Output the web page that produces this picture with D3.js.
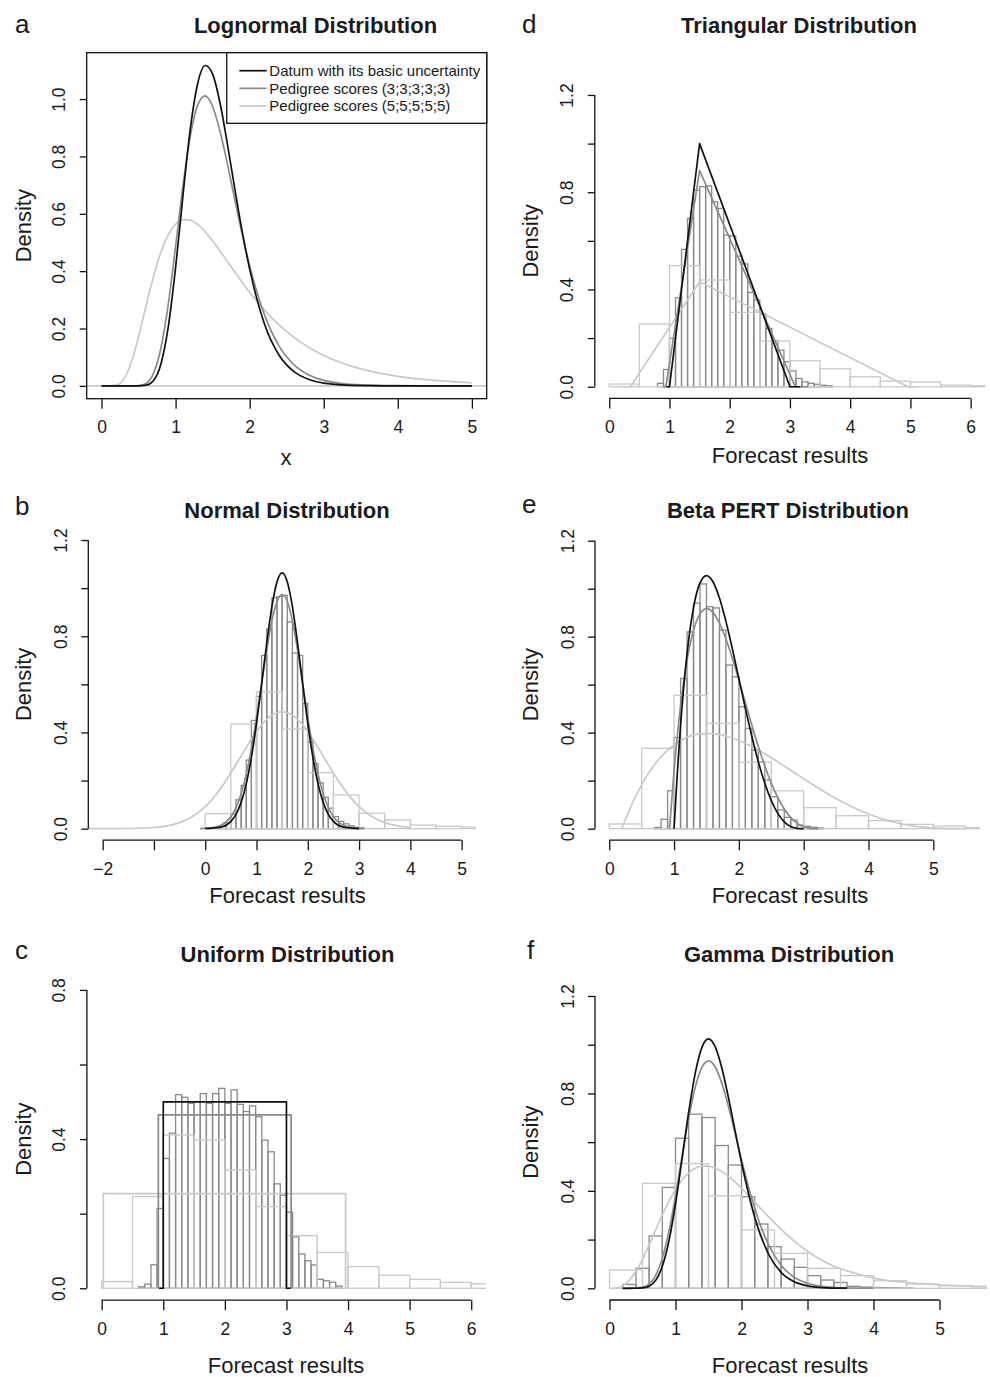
<!DOCTYPE html>
<html>
<head>
<meta charset="utf-8">
<script src="https://cdn.jsdelivr.net/npm/d3@7"></script>
<style>
  body { margin: 0; background: #fff; }
  svg text { font-family: "Liberation Sans", Arial, Helvetica, sans-serif; }
</style>
</head>
<body>
<svg id="chart" width="990" height="1377"></svg>
<script>
// ─── Panel a: lognormal densities ───
const lnX     = [0, 0.1, 0.2, 0.3, 0.4, 0.5, 0.6, 0.7, 0.8, 0.9, 1.0, 1.1, 1.2, 1.3, 1.4, 1.5, 1.6, 1.7, 1.8, 1.9, 2.0, 2.2, 2.4, 2.6, 2.8, 3.0, 3.5, 4.0, 4.5, 5.0];
const lnBasic = [0, 0, 0, 0, 0, 0.0001, 0.0024, 0.0179, 0.0745, 0.2038, 0.4125, 0.6644, 0.8985, 1.056, 1.117, 1.087, 0.9862, 0.8424, 0.6861, 0.5372, 0.4072, 0.2161, 0.1061, 0.0494, 0.0221, 0.0096, 0.0011, 0.0001, 0, 0];
const lnPed3  = [0, 0, 0, 0, 0, 0.0009, 0.0088, 0.0426, 0.1295, 0.2827, 0.4865, 0.6981, 0.873, 0.9807, 1.0115, 0.9742, 0.8879, 0.7732, 0.6488, 0.5278, 0.4187, 0.2476, 0.1379, 0.0736, 0.0381, 0.0193, 0.0034, 0.0006, 0.0001, 0];
const lnPed5  = [0, 0, 0.0025, 0.0235, 0.0808, 0.1717, 0.2777, 0.3798, 0.4647, 0.5263, 0.5639, 0.5798, 0.5779, 0.5623, 0.5372, 0.5056, 0.4704, 0.4336, 0.3967, 0.3607, 0.3264, 0.2643, 0.2118, 0.1687, 0.1339, 0.106, 0.0591, 0.0333, 0.019, 0.011];

// ─── Panel b: normal ───
const normBasic = [[0, 0.0004], [0.3, 0.0064], [0.5, 0.0304], [0.6, 0.0597], [0.7, 0.1093], [0.8, 0.1864], [0.9, 0.2957], [1.0, 0.4373], [1.1, 0.6022], [1.2, 0.7725], [1.3, 0.9228], [1.4, 1.0267], [1.5, 1.0638], [1.6, 1.0267], [1.7, 0.9228], [1.8, 0.7725], [1.9, 0.6022], [2.0, 0.4373], [2.1, 0.2957], [2.2, 0.1864], [2.3, 0.1093], [2.4, 0.0597], [2.5, 0.0304], [2.7, 0.0064], [3.0, 0.0004]];
const normPed3 = [[-0.1, 0.0005], [0.1, 0.0029], [0.3, 0.0134], [0.5, 0.0497], [0.6, 0.0875], [0.7, 0.145], [0.8, 0.2265], [0.9, 0.3334], [1.0, 0.4626], [1.1, 0.6045], [1.2, 0.7444], [1.3, 0.8638], [1.4, 0.9445], [1.5, 0.973], [1.6, 0.9445], [1.7, 0.8638], [1.8, 0.7444], [1.9, 0.6045], [2.0, 0.4626], [2.1, 0.3334], [2.2, 0.2265], [2.3, 0.145], [2.4, 0.0875], [2.5, 0.0497], [2.7, 0.0134], [2.9, 0.0029], [3.1, 0.0005]];
const normPed5 = [[-2.27, 0], [-1.5, 0.0006], [-1.0, 0.0047], [-0.5, 0.025], [-0.3, 0.0439], [-0.1, 0.0727], [0.1, 0.1135], [0.3, 0.167], [0.5, 0.2315], [0.7, 0.3023], [0.9, 0.3721], [1.1, 0.4316], [1.3, 0.4718], [1.5, 0.486], [1.7, 0.4718], [1.9, 0.4316], [2.1, 0.3721], [2.3, 0.3023], [2.5, 0.2315], [2.7, 0.167], [2.9, 0.1135], [3.1, 0.0727], [3.3, 0.0439], [3.5, 0.025], [4.0, 0.0047]];
const normHist3 = [0.003, 0.01, 0.025, 0.06, 0.12, 0.18, 0.285, 0.45, 0.55, 0.72, 0.83, 0.96, 0.965, 0.97, 0.86, 0.73, 0.72, 0.52, 0.36, 0.27, 0.19, 0.13, 0.085, 0.05, 0.03, 0.02, 0.012, 0.006, 0.003]; // 0.1 bins from 0.2
const normHist5 = [0.062, 0.435, 0.569, 0.414, 0.233, 0.14, 0.064, 0.036, 0.015, 0.01, 0.007]; // 0.5 bins from 0

// ─── Panel c: uniform ───
const uniBasic = [[0.93, 0], [1, 0], [1, 0.5], [3, 0.5], [3, 0], [3.07, 0]];
const uniPed3 = [[0.92, 0], [0.92, 0.465], [3.076, 0.465], [3.076, 0]];
const uniPed5 = [[0.027, 0], [0.027, 0.254], [3.96, 0.254], [3.96, 0]];
const uniHist3 = [0.004, 0.011, 0.063, 0.214, 0.348, 0.416, 0.519, 0.512, 0.496, 0.5, 0.522, 0.496, 0.522, 0.536, 0.496, 0.532, 0.493, 0.474, 0.489, 0.46, 0.397, 0.366, 0.28, 0.25, 0.204, 0.138, 0.092, 0.074, 0.0625, 0.024, 0.02, 0.016, 0.006]; // 0.1 bins from 0.6
const uniHist5 = [0.018, 0.246, 0.411, 0.398, 0.317, 0.219, 0.141, 0.096, 0.058, 0.035, 0.024, 0.016, 0.012]; // 0.5 bins from 0

// ─── Panel d: triangular ───
const triBasic = [[0.95, 0], [1.0, 0], [1.5, 1.0], [3.0, 0], [3.17, 0]];
const triPed3 = [[0.9, 0], [0.94, 0], [1.5, 0.889], [3.09, 0], [3.3, 0]];
const triPed5 = [[0.25, 0], [0.35, 0], [1.5, 0.432], [4.96, 0], [5.1, 0]];
const triHist3 = [0.014, 0.071, 0.199, 0.366, 0.565, 0.692, 0.809, 0.823, 0.826, 0.761, 0.733, 0.624, 0.62, 0.537, 0.505, 0.388, 0.357, 0.3, 0.24, 0.19, 0.15, 0.103, 0.065, 0.034, 0.02, 0.014, 0.01, 0.006, 0.004]; // 0.1 bins from 0.8
const triHist5 = [0.011, 0.258, 0.498, 0.439, 0.306, 0.188, 0.107, 0.074, 0.041, 0.023, 0.019, 0.007, 0.004]; // 0.5 bins from 0

// ─── Panel e: beta PERT ───
const betaBasic = [[1.0, 0], [1.05, 0.2317], [1.1, 0.4287], [1.2, 0.729], [1.3, 0.9212], [1.4, 1.024], [1.5, 1.0547], [1.6, 1.029], [1.7, 0.9612], [1.8, 0.864], [1.9, 0.7487], [2.0, 0.625], [2.1, 0.5012], [2.2, 0.384], [2.3, 0.2787], [2.4, 0.189], [2.5, 0.1172], [2.6, 0.064], [2.7, 0.0287], [2.8, 0.009], [2.9, 0.0012], [3.0, 0]];
const betaPed3 = [[0.93, 0], [1.0, 0.2411], [1.1, 0.5105], [1.2, 0.7019], [1.3, 0.8266], [1.4, 0.8951], [1.5, 0.9171], [1.6, 0.9016], [1.7, 0.8568], [1.8, 0.7905], [1.9, 0.7092], [2.0, 0.6189], [2.1, 0.5246], [2.2, 0.4312], [2.3, 0.3424], [2.4, 0.2612], [2.5, 0.1898], [2.6, 0.1297], [2.7, 0.0818], [2.8, 0.0462], [2.9, 0.022], [3.0, 0.0078], [3.1, 0.0015], [3.23, 0]];
const betaPed5 = [[0.19, 0], [0.4, 0.132], [0.6, 0.2285], [0.8, 0.3], [1.0, 0.3496], [1.2, 0.3804], [1.4, 0.3951], [1.6, 0.3963], [1.8, 0.3863], [2.0, 0.3676], [2.2, 0.3422], [2.4, 0.3119], [2.6, 0.2784], [2.8, 0.2434], [3.0, 0.208], [3.2, 0.1735], [3.4, 0.1408], [3.6, 0.1108], [3.8, 0.0841], [4.0, 0.0609], [4.2, 0.0417], [4.4, 0.0266], [4.6, 0.0152], [4.8, 0.0075], [5.0, 0.0029], [5.2, 0.0006], [5.5, 0]];
const betaHist3 = [0.005, 0.039, 0.158, 0.38, 0.626, 0.82, 0.94, 1.02, 0.925, 0.92, 0.828, 0.682, 0.633, 0.508, 0.418, 0.328, 0.279, 0.203, 0.133, 0.078, 0.047, 0.036, 0.015, 0.01, 0.006, 0.003]; // 0.1 bins from 0.7
const betaHist5 = [0.0196, 0.335, 0.556, 0.439, 0.277, 0.158, 0.0876, 0.054, 0.0335, 0.018, 0.011, 0.004]; // 0.5 bins from 0

// ─── Panel f: gamma ───
const gamBasic = [[0.2, 0], [0.4, 0.0002], [0.5, 0.0016], [0.6, 0.0089], [0.7, 0.0331], [0.8, 0.0903], [0.9, 0.1944], [1.0, 0.3471], [1.1, 0.5335], [1.2, 0.7238], [1.3, 0.8846], [1.4, 0.9892], [1.5, 1.024], [1.6, 0.992], [1.7, 0.9061], [1.8, 0.7857], [1.9, 0.6504], [2.0, 0.5163], [2.2, 0.292], [2.4, 0.1457], [2.6, 0.0656], [2.8, 0.0269], [3.0, 0.0103], [3.3, 0.0021], [3.6, 0.0004]];
const gamPed3 = [[0.2, 0], [0.5, 0.0042], [0.6, 0.0179], [0.7, 0.0535], [0.8, 0.1234], [0.9, 0.2337], [1.0, 0.3792], [1.1, 0.5424], [1.2, 0.6994], [1.3, 0.8267], [1.4, 0.9073], [1.5, 0.934], [1.6, 0.9095], [1.7, 0.8434], [1.8, 0.7489], [1.9, 0.6398], [2.0, 0.5279], [2.2, 0.3282], [2.4, 0.1839], [2.6, 0.0945], [2.8, 0.0451], [3.0, 0.0202], [3.3, 0.0055], [3.6, 0.0013], [4.0, 0.0002]];
const gamPed5 = [[0.05, 0], [0.1, 0.0011], [0.2, 0.01], [0.3, 0.0325], [0.4, 0.0699], [0.5, 0.1199], [0.6, 0.1783], [0.7, 0.2401], [0.8, 0.3011], [0.9, 0.3572], [1.0, 0.4057], [1.1, 0.4449], [1.2, 0.4738], [1.3, 0.4926], [1.4, 0.5015], [1.5, 0.5016], [1.6, 0.4939], [1.8, 0.4603], [2.0, 0.4107], [2.2, 0.3537], [2.4, 0.296], [2.6, 0.2417], [2.8, 0.1934], [3.0, 0.1519], [3.25, 0.1099], [3.5, 0.08], [3.75, 0.06], [4.0, 0.042], [4.5, 0.024], [5.0, 0.014], [5.5, 0.009], [5.72, 0.007]];
const gamHist3 = [0.016, 0.082, 0.215, 0.414, 0.616, 0.715, 0.701, 0.586, 0.506, 0.376, 0.264, 0.171, 0.12, 0.086, 0.052, 0.034, 0.024, 0.008, 0.005, 0.003, 0.002, 0.001]; // 0.2 bins from 0.2
const gamHist5 = [0.075, 0.431, 0.512, 0.38, 0.24, 0.1435, 0.082, 0.052, 0.031, 0.0175, 0.0107, 0.0066]; // 0.5 bins from 0

// ─── Ticks ───
const yTicks12 = [0, 0.2, 0.4, 0.6, 0.8, 1.0, 1.2];
const yLabels12 = [0, 0.4, 0.8, 1.2];
const legendLabels = ["Datum with its basic uncertainty", "Pedigree scores (3;3;3;3;3)", "Pedigree scores (5;5;5;5;5)"];

const DARK = "#111111", MID = "#8a8a8a", LIGHT = "#c9c9c9", TEXT = "#1a1a1a";
const seriesColors = [DARK, MID, LIGHT];

const panels = [
  {
    id: "a", title: "Lognormal Distribution", xlab: "x", box: true,
    px: [86.7, 486.7], py: [398.7, 52.7], xdom: [-0.2, 5.2], ydom: [-0.0447, 1.1617],
    xticks: [0, 1, 2, 3, 4, 5], xlabels: [0, 1, 2, 3, 4, 5],
    yticks: [0, 0.2, 0.4, 0.6, 0.8, 1.0], ylabels: [0, 0.2, 0.4, 0.6, 0.8, 1.0],
    title_xy: [315.5, 33.3], letter_xy: [15, 32.7], xlab_xy: [286, 465], ylabX: 30.7,
    hist3: null, hist5: null,
    curves: [d3.zip(lnX, lnPed5), d3.zip(lnX, lnPed3), d3.zip(lnX, lnBasic)], smooth: true,
  },
  {
    id: "b", title: "Normal Distribution", xlab: "Forecast results",
    px: [88.3, 476], py: [840.2, 528.5], xdom: [-2.28, 5.28], ydom: [-0.048, 1.248],
    xticks: [-2, -1, 0, 1, 2, 3, 4, 5], xlabels: [-2, 0, 1, 2, 3, 4, 5],
    yticks: yTicks12, ylabels: yLabels12,
    title_xy: [287, 518.3], letter_xy: [15, 515], xlab_xy: [287.5, 903], ylabX: 30.7,
    hist3: { start: 0.2, step: 0.1, values: normHist3 }, hist5: { start: 0, step: 0.5, values: normHist5 },
    curves: [normPed5, normPed3, normBasic], smooth: true,
  },
  {
    id: "c", title: "Uniform Distribution", xlab: "Forecast results",
    px: [86.9, 486], py: [1300.2, 978], xdom: [-0.24, 6.24], ydom: [-0.032, 0.832],
    xticks: [0, 1, 2, 3, 4, 5, 6], xlabels: [0, 1, 2, 3, 4, 5, 6],
    yticks: [0, 0.2, 0.4, 0.6, 0.8], ylabels: [0, 0.4, 0.8],
    title_xy: [287.5, 961.7], letter_xy: [15, 959.3], xlab_xy: [286, 1373], ylabX: 30.7,
    hist3: { start: 0.6, step: 0.1, values: uniHist3 }, hist5: { start: 0, step: 0.5, values: uniHist5 },
    curves: [uniPed5, uniPed3, uniBasic], smooth: false,
  },
  {
    id: "d", title: "Triangular Distribution", xlab: "Forecast results",
    px: [594.8, 985.1], py: [398.4, 83.3], xdom: [-0.24, 6.24], ydom: [-0.048, 1.248],
    xticks: [0, 1, 2, 3, 4, 5, 6], xlabels: [0, 1, 2, 3, 4, 5, 6],
    yticks: yTicks12, ylabels: yLabels12,
    title_xy: [799, 33.3], letter_xy: [522, 32.7], xlab_xy: [790, 462.7], ylabX: 537.7,
    hist3: { start: 0.8, step: 0.1, values: triHist3 }, hist5: { start: 0, step: 0.5, values: triHist5 },
    curves: [triPed5, triPed3, triBasic], smooth: false,
  },
  {
    id: "e", title: "Beta PERT Distribution", xlab: "Forecast results",
    px: [595, 980], py: [840.2, 529.2], xdom: [-0.22, 5.72], ydom: [-0.048, 1.248],
    xticks: [0, 1, 2, 3, 4, 5], xlabels: [0, 1, 2, 3, 4, 5],
    yticks: yTicks12, ylabels: yLabels12,
    title_xy: [788, 518.3], letter_xy: [522, 513.3], xlab_xy: [790, 903], ylabX: 537.7,
    hist3: { start: 0.7, step: 0.1, values: betaHist3 }, hist5: { start: 0, step: 0.5, values: betaHist5 },
    curves: [betaPed5, betaPed3, betaBasic], smooth: true,
  },
  {
    id: "f", title: "Gamma Distribution", xlab: "Forecast results",
    px: [595, 987], py: [1300, 984.3], xdom: [-0.22, 5.72], ydom: [-0.048, 1.248],
    xticks: [0, 1, 2, 3, 4, 5], xlabels: [0, 1, 2, 3, 4, 5],
    yticks: yTicks12, ylabels: yLabels12,
    title_xy: [789, 961.7], letter_xy: [527, 959.3], xlab_xy: [790, 1373], ylabX: 537.7,
    hist3: { start: 0.2, step: 0.2, values: gamHist3 }, hist5: { start: 0, step: 0.5, values: gamHist5 },
    curves: [gamPed5, gamPed3, gamBasic], smooth: true,
  },
];

const svg = d3.select("#chart");
const defs = svg.append("defs");

function drawHist(g, x, y, h, color) {
  g.append("g")
    .selectAll("rect")
    .data(h.values)
    .enter()
    .append("rect")
    .attr("x", (d, i) => x(h.start + i * h.step))
    .attr("width", (d, i) => x(h.start + (i + 1) * h.step) - x(h.start + i * h.step))
    .attr("y", (d) => y(d))
    .attr("height", (d) => y(0) - y(d))
    .attr("fill", "none")
    .attr("stroke", color)
    .attr("stroke-width", 1.3);
}

panels.forEach((p) => {
  const x = d3.scaleLinear().domain(p.xdom).range(p.px);
  const y = d3.scaleLinear().domain(p.ydom).range(p.py);
  const g = svg.append("g").attr("class", `panel-${p.id}`);

  defs.append("clipPath").attr("id", `clip-${p.id}`)
    .append("rect")
    .attr("x", p.px[0]).attr("y", p.py[1])
    .attr("width", p.px[1] - p.px[0]).attr("height", p.py[0] - p.py[1]);

  const plot = g.append("g").attr("clip-path", `url(#clip-${p.id})`);

  if (p.box) {
    // zero reference line across the whole plot
    plot.append("line")
      .attr("x1", p.px[0]).attr("x2", p.px[1])
      .attr("y1", y(0)).attr("y2", y(0))
      .attr("stroke", LIGHT).attr("stroke-width", 1.6);
  }

  // ─── Histograms ───
  if (p.hist3) drawHist(plot, x, y, p.hist3, MID);
  if (p.hist5) drawHist(plot, x, y, p.hist5, LIGHT);

  // ─── Density curves (light, mid, black) ───
  const line = d3.line()
    .x((d) => x(d[0]))
    .y((d) => y(d[1]))
    .curve(p.smooth ? d3.curveMonotoneX : d3.curveLinear);

  p.curves.forEach((c, i) => {
    plot.append("path")
      .attr("d", line(c))
      .attr("fill", "none")
      .attr("stroke", seriesColors[2 - i])
      .attr("stroke-width", 1.7)
      .attr("stroke-linejoin", "round");
  });

  // ─── Axes ───
  const yAxisG = g.append("g")
    .attr("transform", `translate(${p.px[0]},0)`)
    .call(d3.axisLeft(y).tickValues(p.yticks).tickSize(7)
      .tickFormat((d) => (p.ylabels.includes(d) ? d3.format(".1f")(d) : "")));
  yAxisG.select(".domain").remove();
  yAxisG.attr("font-size", null).attr("font-family", null);
  yAxisG.selectAll("line").attr("stroke", DARK).attr("stroke-width", 1.3);
  yAxisG.selectAll("text")
    .attr("x", 0).attr("dy", 0)
    .attr("text-anchor", "middle")
    .attr("transform", "translate(-21.5,0) rotate(-90)")
    .attr("fill", TEXT)
    .style("font-size", "17.5px");

  const xAxisG = g.append("g")
    .attr("transform", `translate(0,${p.py[0]})`)
    .call(d3.axisBottom(x).tickValues(p.xticks).tickSize(10)
      .tickFormat((d) => (p.xlabels.includes(d) ? d3.format("d")(d) : "")));
  xAxisG.select(".domain").remove();
  xAxisG.attr("font-size", null).attr("font-family", null);
  xAxisG.selectAll("line").attr("stroke", DARK).attr("stroke-width", 1.3);
  xAxisG.selectAll("text")
    .attr("y", 34.5).attr("dy", 0)
    .attr("fill", TEXT)
    .style("font-size", "17.5px");

  if (p.box) {
    g.append("rect")
      .attr("x", p.px[0]).attr("y", p.py[1])
      .attr("width", p.px[1] - p.px[0]).attr("height", p.py[0] - p.py[1])
      .attr("fill", "none").attr("stroke", DARK).attr("stroke-width", 1.3);
  } else {
    const yt = p.yticks, xt = p.xticks;
    g.append("line")
      .attr("x1", p.px[0]).attr("x2", p.px[0])
      .attr("y1", y(yt[0])).attr("y2", y(yt[yt.length - 1]))
      .attr("stroke", DARK).attr("stroke-width", 1.3);
    g.append("line")
      .attr("x1", x(xt[0])).attr("x2", x(xt[xt.length - 1]))
      .attr("y1", p.py[0]).attr("y2", p.py[0])
      .attr("stroke", DARK).attr("stroke-width", 1.3);
  }

  // ─── Labels ───
  g.append("text")
    .attr("x", p.title_xy[0]).attr("y", p.title_xy[1])
    .attr("text-anchor", "middle")
    .attr("font-weight", 700).attr("font-size", "22px")
    .attr("fill", TEXT)
    .text(p.title);

  g.append("text")
    .attr("x", p.letter_xy[0]).attr("y", p.letter_xy[1])
    .attr("font-size", "26px").attr("fill", TEXT)
    .text(p.id);

  g.append("text")
    .attr("x", p.xlab_xy[0]).attr("y", p.xlab_xy[1])
    .attr("text-anchor", "middle").attr("font-size", "22px").attr("fill", TEXT)
    .text(p.xlab);

  g.append("text")
    .attr("transform", `translate(${p.ylabX},${(p.py[0] + p.py[1]) / 2}) rotate(-90)`)
    .attr("text-anchor", "middle").attr("font-size", "22px").attr("fill", TEXT)
    .text("Density");

  // ─── Legend (panel a only) ───
  if (p.box) {
    const lg = g.append("g");
    lg.append("rect")
      .attr("x", 226.7).attr("y", p.py[1])
      .attr("width", p.px[1] - 226.7).attr("height", 70.6)
      .attr("fill", "#fff").attr("stroke", DARK).attr("stroke-width", 1.3);
    legendLabels.forEach((label, i) => {
      const ly = 70.7 + i * 17.65;
      lg.append("line")
        .attr("x1", 239.3).attr("x2", 266.7)
        .attr("y1", ly).attr("y2", ly)
        .attr("stroke", seriesColors[i]).attr("stroke-width", 1.7);
      lg.append("text")
        .attr("x", 269.3).attr("y", ly).attr("dy", "0.35em")
        .attr("font-size", "15px").attr("fill", TEXT)
        .text(label);
    });
  }
});
</script>
</body>
</html>
